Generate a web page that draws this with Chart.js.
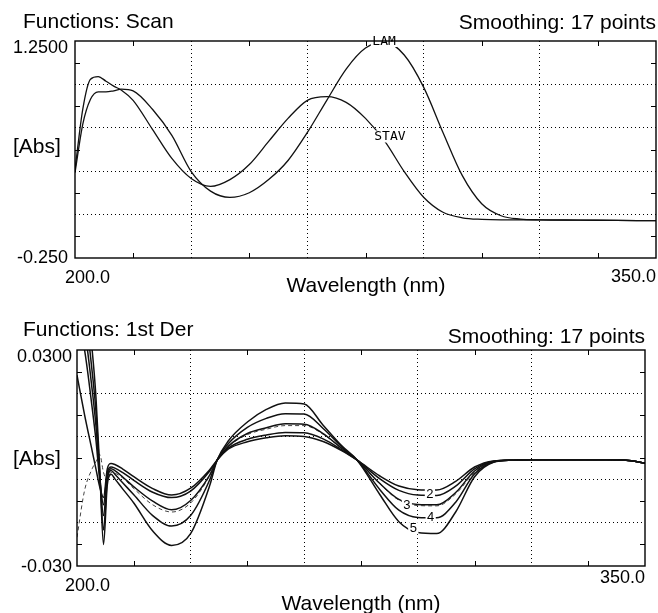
<!DOCTYPE html>
<html><head><meta charset="utf-8">
<script src="https://cdn.jsdelivr.net/npm/chart.js@4"></script>
<style>
html,body{margin:0;padding:0;background:#fff;}
#wrap{position:relative;width:658px;height:613px;overflow:hidden;}
canvas{position:absolute;left:0;}
</style></head><body>
<div id="wrap">
<canvas id="c1" width="658" height="306" style="top:0px"></canvas>
<canvas id="c2" width="658" height="307" style="top:306px"></canvas>
</div>
<script>
// ---------- DATA ----------
const scanWavelengths = [200,202,204,206,208,210,212,215,220,225,230,235,240,245,250,255,260,265,270,275,280,285,290,295,300,305,310,315,320,330,340,350];
const scanLAM  = [0.340,0.674,0.847,0.899,0.898,0.906,0.917,0.905,0.778,0.597,0.347,0.212,0.169,0.201,0.292,0.424,0.618,0.840,1.056,1.201,1.243,1.153,0.931,0.618,0.319,0.125,0.042,0.019,0.014,0.012,0.010,0.008];
const scanSTAV = [0.361,0.778,0.986,1.004,0.972,0.938,0.910,0.840,0.639,0.438,0.299,0.245,0.292,0.396,0.556,0.715,0.840,0.865,0.826,0.715,0.556,0.347,0.170,0.066,0.028,0.017,0.014,0.014,0.014,0.012,0.010,0.008];

const derWavelengths = [200,202,204,205,206,207,208,209,210,212,215,220,225,230,235,237,240,245,250,255,260,265,270,274,280,285,290,295,300,305,310,315,320,330,340,345,350];
const der1 = [0.023,0.012,0.002,-0.003,-0.008,-0.011,-0.003,-0.0015,-0.0018,-0.0030,-0.0052,-0.0085,-0.0103,-0.0084,-0.0033,-0.0006,0.0025,0.0045,0.0056,0.0062,0.0060,0.0046,0.0020,-0.0006,-0.0050,-0.0078,-0.0088,-0.0089,-0.0065,-0.0025,-0.0008,-0.0006,-0.0005,-0.0005,-0.0005,-0.0006,-0.0014];
const der2 = [0.040,0.030,0.014,0.005,-0.006,-0.013,-0.004,-0.0025,-0.0028,-0.0040,-0.0062,-0.0095,-0.0110,-0.0092,-0.0037,-0.0006,0.0028,0.0052,0.0064,0.0071,0.0070,0.0053,0.0022,-0.0006,-0.0058,-0.0090,-0.0103,-0.0104,-0.0078,-0.0030,-0.0009,-0.0006,-0.0005,-0.0005,-0.0005,-0.0006,-0.0014];
const der3 = [0.046,0.036,0.019,0.009,-0.005,-0.016,-0.005,-0.003,-0.0035,-0.0052,-0.0080,-0.0120,-0.0144,-0.0118,-0.0048,-0.0006,0.0033,0.0068,0.0084,0.0095,0.0094,0.0068,0.0026,-0.0006,-0.0071,-0.0115,-0.0129,-0.0130,-0.0096,-0.0036,-0.0010,-0.0006,-0.0005,-0.0005,-0.0005,-0.0006,-0.0014];
const der4 = [0.052,0.042,0.024,0.013,-0.004,-0.020,-0.006,-0.0035,-0.0045,-0.0068,-0.0102,-0.0160,-0.0189,-0.0160,-0.0062,-0.0006,0.0040,0.0085,0.0110,0.0123,0.0122,0.0082,0.0030,-0.0006,-0.0088,-0.0145,-0.0165,-0.0166,-0.0123,-0.0044,-0.0011,-0.0006,-0.0005,-0.0005,-0.0005,-0.0006,-0.0014];
const der5 = [0.060,0.048,0.030,0.017,-0.003,-0.024,-0.0075,-0.0045,-0.0058,-0.0085,-0.0125,-0.0203,-0.0243,-0.0210,-0.0078,-0.0006,0.0048,0.0100,0.0135,0.0153,0.0150,0.0091,0.0033,-0.0006,-0.0102,-0.0177,-0.0207,-0.0210,-0.0150,-0.0052,-0.0012,-0.0006,-0.0005,-0.0005,-0.0005,-0.0006,-0.0014];
const derDashed = [-0.022,-0.009,-0.003,-0.001,0.0010,-0.004,-0.006,-0.004,-0.0042,-0.0055,-0.0085,-0.0130,-0.0150,-0.0125,-0.0050,-0.0005,0.0032,0.0065,0.0080,0.0090,0.0090,0.0066,0.0026,-0.0006,-0.0072,-0.0117,-0.0132,-0.0133,-0.0100,-0.0040,-0.0010,-0.0006,-0.0005,-0.0005,-0.0005,-0.0006,-0.0014];

const xGridTicks = [200,230,260,290,320,350];
const scanYTicks = [-0.25,0.05,0.35,0.65,0.95,1.25];
const derYTicks  = [-0.03,-0.018,-0.006,0.006,0.018,0.03];
const xTickLabels = ['200.0','350.0'];
const scanYTickLabels = ['1.2500','-0.250'];
const derYTickLabels  = ['0.0300','-0.030'];
const scanCurveLabels = ['LAM','STAV'];
const scanLabelAnchors = [[279.8,1.25],[281.3,0.59]];
const derCurveLabels = ['2','3','4','5'];
const derLabelAnchors = [[293.2,-0.0100],[287.1,-0.0131],[293.4,-0.0163],[288.8,-0.0195]];

// ---------- HELPERS ----------
const pts = (xs, ys) => xs.map((v,i)=>({x:v,y:ys[i]}));
const TITLE = '21px "Liberation Sans", Arial, sans-serif';
const TICK = '18px "Liberation Sans", Arial, sans-serif';

const framePlugin = {
  id: 'frame',
  afterDraw(chart, args, opts) {
    const {ctx, chartArea: a} = chart;
    const x = chart.scales.x, y = chart.scales.y;
    ctx.save();
    // curve labels with white background
    ctx.font = opts.labelFont;
    ctx.textAlign = 'center'; ctx.textBaseline = 'middle';
    opts.labels.forEach(l => {
      const px = x.getPixelForValue(l.x), py = y.getPixelForValue(l.y);
      const w = ctx.measureText(l.text).width;
      ctx.fillStyle = '#fff';
      ctx.fillRect(px - w/2 - 1.5, py - 6, w + 3, 12);
      ctx.fillStyle = '#000';
      ctx.fillText(l.text, px, py + 0.5);
    });
    // frame
    ctx.strokeStyle = '#000'; ctx.lineWidth = 1.4;
    ctx.strokeRect(a.left, a.top, a.right - a.left, a.bottom - a.top);
    // minor ticks (midpoints)
    ctx.lineWidth = 1;
    const xt = opts.xTicks, yt = opts.yTicks;
    for (let i = 0; i < xt.length - 1; i++) {
      const px = Math.round(x.getPixelForValue((xt[i] + xt[i+1]) / 2)) + 0.5;
      ctx.beginPath(); ctx.moveTo(px, a.bottom); ctx.lineTo(px, a.bottom - 5);
      ctx.moveTo(px, a.top); ctx.lineTo(px, a.top + 5); ctx.stroke();
    }
    for (let i = 0; i < yt.length - 1; i++) {
      const py = Math.round(y.getPixelForValue((yt[i] + yt[i+1]) / 2)) + 0.5;
      ctx.beginPath(); ctx.moveTo(a.left, py); ctx.lineTo(a.left + 5, py);
      ctx.moveTo(a.right, py); ctx.lineTo(a.right - 5, py); ctx.stroke();
    }
    // outer texts
    ctx.fillStyle = '#000'; ctx.textBaseline = 'alphabetic';
    opts.texts.forEach(t => {
      ctx.font = t.font; ctx.textAlign = t.align;
      ctx.fillText(t.text, t.x, t.y);
    });
    ctx.restore();
  }
};

function makeScales(xt, yt, ymin, ymax) {
  const gridColor = c => (c.index === 0 || c.index === c.scale.ticks.length - 1) ? 'rgba(0,0,0,0)' : '#000';
  return {
    x: { type: 'linear', min: 200, max: 350,
      afterBuildTicks: s => { s.ticks = xt.map(v => ({value: v})); },
      ticks: { display: false },
      grid: { color: gridColor, lineWidth: 1, drawTicks: false },
      border: { display: false, dash: [1, 3] } },
    y: { type: 'linear', min: ymin, max: ymax,
      afterBuildTicks: s => { s.ticks = yt.map(v => ({value: v})); },
      ticks: { display: false },
      grid: { color: gridColor, lineWidth: 1, drawTicks: false },
      border: { display: false, dash: [1, 3] } }
  };
}

const common = { responsive: false, animation: false, devicePixelRatio: 1,
  plugins: { legend: { display: false }, tooltip: { enabled: false } } };

// ---------- TOP: SCAN ----------
new Chart(document.getElementById('c1'), {
  type: 'line',
  data: { datasets: [
    { label: 'LAM', data: pts(scanWavelengths, scanLAM), borderColor: '#111', borderWidth: 1.3, pointRadius: 0, cubicInterpolationMode: 'monotone' },
    { label: 'STAV', data: pts(scanWavelengths, scanSTAV), borderColor: '#111', borderWidth: 1.3, pointRadius: 0, cubicInterpolationMode: 'monotone' }
  ]},
  options: Object.assign({}, common, {
    layout: { padding: { left: 75, top: 41, right: 2, bottom: 48 } },
    scales: makeScales(xGridTicks, scanYTicks, scanYTicks[0], scanYTicks[scanYTicks.length-1]),
    plugins: Object.assign({}, common.plugins, {
      frame: {
        labelFont: '13px "DejaVu Sans Mono", monospace',
        labels: scanCurveLabels.map((t,i) => ({text: t, x: scanLabelAnchors[i][0], y: scanLabelAnchors[i][1]})),
        xTicks: xGridTicks, yTicks: scanYTicks,
        texts: [
          {text: 'Functions: Scan', x: 23, y: 28, font: TITLE, align: 'left'},
          {text: 'Smoothing: 17 points', x: 656, y: 28.5, font: TITLE, align: 'right'},
          {text: scanYTickLabels[0], x: 68, y: 53, font: TICK, align: 'right'},
          {text: scanYTickLabels[1], x: 68, y: 263, font: TICK, align: 'right'},
          {text: '[Abs]', x: 13, y: 153, font: TITLE, align: 'left'},
          {text: xTickLabels[0], x: 65, y: 283, font: TICK, align: 'left'},
          {text: xTickLabels[1], x: 656, y: 281.5, font: TICK, align: 'right'},
          {text: 'Wavelength (nm)', x: 366, y: 292, font: TITLE, align: 'center'}
        ]
      }
    })
  }),
  plugins: [framePlugin]
});

// ---------- BOTTOM: 1st DERIVATIVE ----------
const derSeries = [der1, der2, der3, der4, der5];
const derSets = derSeries.map((s,i) => ({ label: String(i+1), data: pts(derWavelengths, s), borderColor: '#111', borderWidth: 1.5, pointRadius: 0, cubicInterpolationMode: 'monotone' }));
derSets.push({ label: 'dashed', data: pts(derWavelengths, derDashed), borderColor: '#444', borderWidth: 1, borderDash: [4,3], pointRadius: 0, cubicInterpolationMode: 'monotone' });

new Chart(document.getElementById('c2'), {
  type: 'line',
  data: { datasets: derSets },
  options: Object.assign({}, common, {
    layout: { padding: { left: 77, top: 44, right: 13, bottom: 47 } },
    scales: makeScales(xGridTicks, derYTicks, derYTicks[0], derYTicks[derYTicks.length-1]),
    plugins: Object.assign({}, common.plugins, {
      frame: {
        labelFont: '13px "Liberation Sans", Arial, sans-serif',
        labels: derCurveLabels.map((t,i) => ({text: t, x: derLabelAnchors[i][0], y: derLabelAnchors[i][1]})),
        xTicks: xGridTicks, yTicks: derYTicks,
        texts: [
          {text: 'Functions: 1st Der', x: 23, y: 30, font: TITLE, align: 'left'},
          {text: 'Smoothing: 17 points', x: 645, y: 37, font: TITLE, align: 'right'},
          {text: derYTickLabels[0], x: 72, y: 56, font: TICK, align: 'right'},
          {text: derYTickLabels[1], x: 72, y: 266, font: TICK, align: 'right'},
          {text: '[Abs]', x: 13, y: 159, font: TITLE, align: 'left'},
          {text: xTickLabels[0], x: 65, y: 285, font: TICK, align: 'left'},
          {text: xTickLabels[1], x: 645, y: 277, font: TICK, align: 'right'},
          {text: 'Wavelength (nm)', x: 361, y: 304, font: TITLE, align: 'center'}
        ]
      }
    })
  }),
  plugins: [framePlugin]
});
</script>
</body></html>
